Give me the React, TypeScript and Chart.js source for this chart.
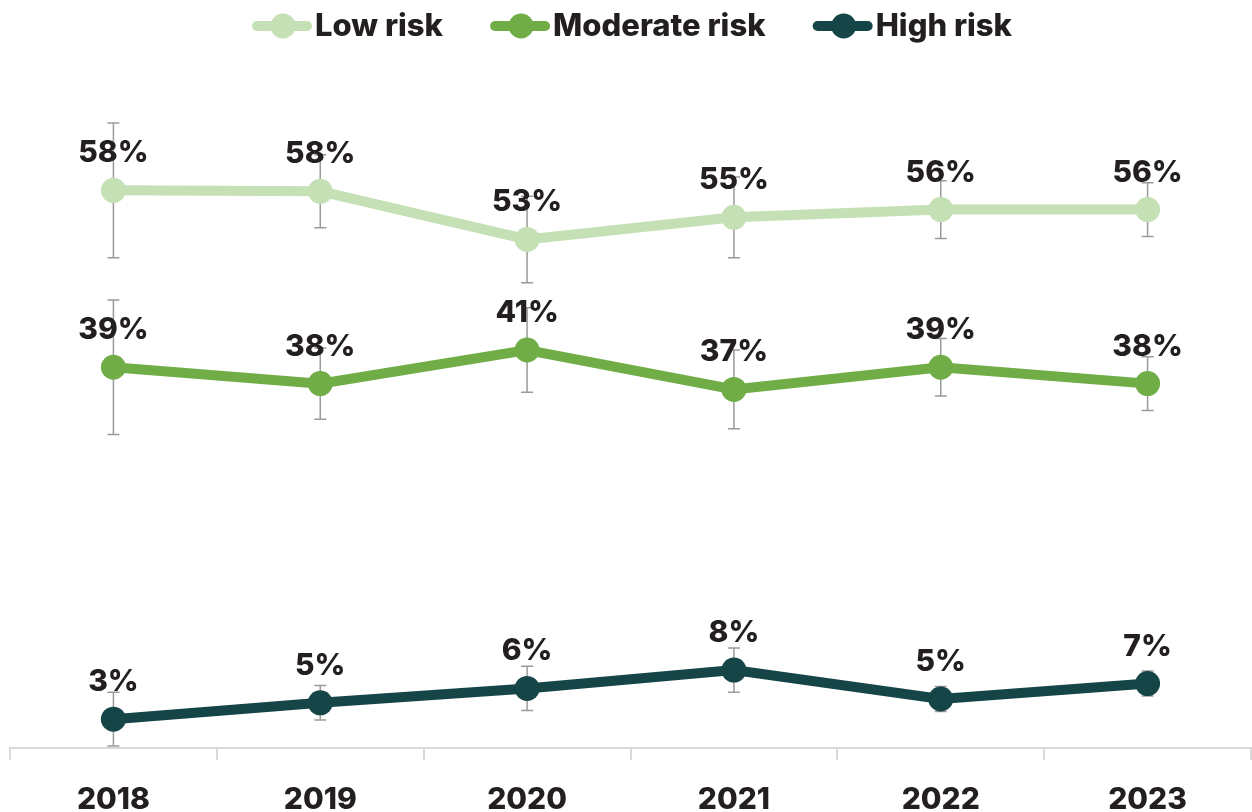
import React, { useEffect, useRef } from 'react';
import { Chart, registerables } from 'chart.js';

Chart.register(...registerables);

const FONT = 'Inter, "Open Sans", "DejaVu Sans", sans-serif';
const TEXT_COLOR = '#231f20';

const years = ['2018', '2019', '2020', '2021', '2022', '2023'];
const seriesNames = ['Low risk', 'Moderate risk', 'High risk'];
const seriesColors = ['#c5e0b4', '#70ad47', '#164547'];

const lowRisk = [58.0, 57.9, 52.9, 55.2, 56.0, 56.0];
const moderateRisk = [39.6, 37.9, 41.4, 37.3, 39.6, 37.9];
const highRisk = [3.0, 4.7, 6.2, 8.1, 5.1, 6.7];

const lowRiskError = [7.0, 3.8, 4.5, 4.2, 3.0, 2.8];
const moderateRiskError = [7.0, 3.7, 4.4, 4.1, 3.0, 2.8];
const highRiskError = [2.8, 1.8, 2.3, 2.3, 1.3, 1.3];

const lowRiskLabels = ['58%', '58%', '53%', '55%', '56%', '56%'];
const moderateRiskLabels = ['39%', '38%', '41%', '37%', '39%', '38%'];
const highRiskLabels = ['3%', '5%', '6%', '8%', '5%', '7%'];

const allValues = [lowRisk, moderateRisk, highRisk];
const allErrors = [lowRiskError, moderateRiskError, highRiskError];
const allLabels = [lowRiskLabels, moderateRiskLabels, highRiskLabels];

const errorBarPlugin = {
  id: 'errorBars',
  beforeDatasetsDraw(chart: any) {
    const ctx = chart.ctx;
    const yScale = chart.scales.y;
    ctx.save();
    ctx.strokeStyle = '#9a9a9a';
    ctx.lineWidth = 1.5;
    chart.data.datasets.forEach((ds: any, di: number) => {
      const meta = chart.getDatasetMeta(di);
      meta.data.forEach((pt: any, i: number) => {
        const v = allValues[di][i];
        const e = allErrors[di][i];
        const x = pt.x;
        const yTop = yScale.getPixelForValue(v + e);
        const yBot = yScale.getPixelForValue(v - e);
        ctx.beginPath();
        ctx.moveTo(x, yTop);
        ctx.lineTo(x, yBot);
        ctx.moveTo(x - 6, yTop);
        ctx.lineTo(x + 6, yTop);
        ctx.moveTo(x - 6, yBot);
        ctx.lineTo(x + 6, yBot);
        ctx.stroke();
      });
    });
    ctx.restore();
  },
};

const valueLabelPlugin = {
  id: 'valueLabels',
  afterDatasetsDraw(chart: any) {
    const ctx = chart.ctx;
    ctx.save();
    ctx.fillStyle = TEXT_COLOR;
    ctx.font = `800 30px ${FONT}`;
    ctx.textAlign = 'center';
    ctx.textBaseline = 'alphabetic';
    chart.data.datasets.forEach((ds: any, di: number) => {
      const meta = chart.getDatasetMeta(di);
      meta.data.forEach((pt: any, i: number) => {
        ctx.fillText(allLabels[di][i], pt.x, pt.y - 28);
      });
    });
    ctx.restore();
  },
};

const legendPlugin = {
  id: 'customLegend',
  afterDraw(chart: any) {
    const ctx = chart.ctx;
    ctx.save();
    ctx.font = `800 31px ${FONT}`;
    const markerW = 60;
    const gap = 3;
    const totalTarget = 760;
    const widths = seriesNames.map((n) => ctx.measureText(n).width);
    const used = widths.reduce((a, b) => a + b, 0) + seriesNames.length * (markerW + gap);
    const spacing = Math.max(30, (totalTarget - used) / (seriesNames.length - 1));
    const total = used + spacing * (seriesNames.length - 1);
    let x = 632 - total / 2;
    const y = 26;
    seriesNames.forEach((name, i) => {
      ctx.strokeStyle = seriesColors[i];
      ctx.fillStyle = seriesColors[i];
      ctx.lineWidth = 10;
      ctx.lineCap = 'round';
      ctx.beginPath();
      ctx.moveTo(x + 5, y);
      ctx.lineTo(x + markerW - 5, y);
      ctx.stroke();
      ctx.beginPath();
      ctx.arc(x + 31, y, 12.5, 0, Math.PI * 2);
      ctx.fill();
      ctx.fillStyle = TEXT_COLOR;
      ctx.textAlign = 'left';
      ctx.textBaseline = 'middle';
      ctx.fillText(name, x + markerW + gap, y + 1);
      x += markerW + gap + widths[i] + spacing;
    });
    ctx.restore();
  },
};

export default function App() {
  const ref = useRef<HTMLCanvasElement>(null);
  useEffect(() => {
    document.body.style.margin = '0';
    const chart = new Chart(ref.current as HTMLCanvasElement, {
      type: 'line',
      data: {
        labels: years,
        datasets: allValues.map((vals, i) => ({
          label: seriesNames[i],
          data: vals,
          borderColor: seriesColors[i],
          backgroundColor: seriesColors[i],
          pointBackgroundColor: seriesColors[i],
          borderWidth: 10,
          pointRadius: 12.5,
          pointBorderWidth: 0,
          tension: 0,
          fill: false,
          clip: false,
        })),
      },
      options: {
        responsive: false,
        animation: false,
        devicePixelRatio: 1,
        layout: { autoPadding: false, padding: { top: 75, left: 10, right: 1, bottom: 0 } },
        plugins: {
          legend: { display: false },
          tooltip: { enabled: false },
        },
        scales: {
          x: {
            offset: true,
            grid: {
              offset: true,
              drawOnChartArea: false,
              drawTicks: true,
              tickLength: 12,
              color: '#d9d9d9',
              lineWidth: 2,
            },
            border: { color: '#d9d9d9', width: 2 },
            ticks: {
              color: TEXT_COLOR,
              font: { family: FONT, size: 30, weight: '800', lineHeight: 1 },
              padding: 25,
              maxRotation: 0,
            },
            afterFit(scale: any) {
              scale.height = 64;
              scale.paddingLeft = 0;
              scale.paddingRight = 0;
            },
          },
          y: { display: false, min: 0, max: 70 },
        },
      },
      plugins: [errorBarPlugin, valueLabelPlugin, legendPlugin],
    } as any);
    return () => chart.destroy();
  }, []);
  return (
    <div style={{ width: 1252, height: 812 }}>
      <canvas ref={ref} width={1252} height={812} style={{ display: 'block' }} />
    </div>
  );
}
